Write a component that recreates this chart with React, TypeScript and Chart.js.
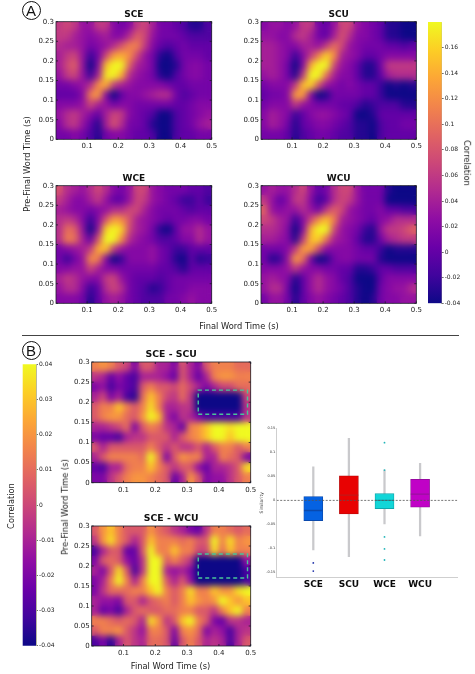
import React, { useEffect, useRef } from "react";
import { Chart, registerables } from "chart.js";

Chart.register(...registerables);

// ---------- DATA ----------
// Heatmap grids: rows run from 0.3 s (top) to 0 s (bottom), columns from 0 s to 0.5 s. Values are correlation x 100.
const gridSCE = [
  [6,7,6,3,3,6,6,2,1,2,6,7,4,1,1,0,-1,-3,-3,-1],
  [6,6,4,3,2,3,4,2,2,5,9,7,3,1,1,1,0,-1,-1,-1],
  [5,4,4,3,1,2,3,5,8,11,11,6,2,0,-1,0,1,0,0,0],
  [4,6,7,3,-2,1,7,13,14,12,7,3,1,-3,-4,-1,1,1,1,0],
  [4,7,9,3,-5,2,15,23,22,9,4,3,1,-5,-6,-3,1,2,2,1],
  [3,6,7,3,-2,4,17,22,14,5,3,2,1,-3,-4,-1,1,2,2,1],
  [1,1,2,3,5,12,14,6,4,3,2,2,2,2,1,0,0,1,1,1],
  [0,0,0,2,11,13,2,-5,0,2,2,3,4,5,5,1,-1,0,1,1],
  [2,2,2,3,7,4,3,1,2,2,1,1,1,1,1,0,0,1,2,2],
  [3,5,6,4,2,0,4,7,6,2,1,0,-1,-4,-4,-1,0,1,2,3],
  [2,5,6,3,0,-3,4,8,5,1,1,0,-3,-6,-6,-1,0,1,3,4],
  [1,1,2,1,-1,-3,1,2,2,1,0,0,-1,-4,-4,-1,0,0,1,1],
];
const gridSCU = [
  [2,3,3,2,3,6,6,1,0,3,7,7,3,2,1,0,-3,-3,-4,-4],
  [3,3,2,2,5,6,4,1,0,4,8,5,2,2,1,0,-3,-3,-4,-4],
  [4,4,3,2,2,4,4,3,6,10,7,3,2,1,1,1,0,0,-1,0],
  [4,4,3,2,-2,2,6,11,16,12,4,3,2,0,0,1,2,2,2,2],
  [4,4,3,1,-5,2,14,22,20,7,3,2,0,-3,-3,1,6,6,6,6],
  [3,4,3,1,-3,6,19,18,10,4,2,2,0,-3,-3,0,4,5,5,5],
  [1,2,2,2,6,15,16,8,3,2,1,2,1,0,0,-2,-4,-3,-4,-3],
  [0,1,1,2,13,13,2,-4,-3,1,1,1,1,0,0,-2,-5,-4,-6,-5],
  [1,2,2,2,6,3,2,1,1,1,0,0,-1,-3,-2,-1,-1,-1,-3,-3],
  [2,4,3,2,-2,0,2,3,3,2,1,0,-4,-4,-3,0,0,0,0,0],
  [2,4,3,1,-3,0,1,2,2,1,0,-1,-3,-3,-4,-1,0,0,1,1],
  [1,1,1,0,-3,-1,0,1,1,0,-1,-1,-3,-3,-4,-1,0,0,0,0],
];
const gridWCE = [
  [8,5,4,3,5,7,5,2,1,3,7,7,3,2,1,1,1,0,0,-1],
  [6,4,2,2,4,6,3,0,0,3,7,6,3,2,1,0,-2,-2,0,-2],
  [4,3,2,2,1,2,3,5,5,7,7,4,2,1,1,1,0,-1,0,0],
  [5,6,5,2,-2,2,8,13,12,8,4,3,2,1,0,1,1,2,2,1],
  [5,10,9,3,-5,3,16,22,16,7,4,3,1,-3,-4,0,3,3,5,3],
  [5,11,10,4,0,8,19,18,12,5,3,2,1,-1,-1,0,2,2,5,3],
  [1,2,3,4,6,14,15,6,3,2,2,2,3,1,0,-2,-2,0,0,0],
  [1,-2,1,3,12,11,2,-4,-2,2,2,2,3,1,0,-3,-5,0,-3,-2],
  [2,2,3,3,7,4,2,2,1,1,1,1,1,0,0,-1,-3,0,0,0],
  [4,6,5,3,2,2,6,7,3,1,0,0,0,-1,0,1,1,1,1,1],
  [3,5,5,2,-2,0,5,7,5,1,0,-1,-3,-2,0,1,1,2,2,2],
  [2,2,2,1,-3,0,3,4,3,1,0,-1,-1,-1,1,1,2,3,2,2],
];
const gridWCU = [
  [3,4,3,3,5,7,3,0,1,5,7,7,3,1,1,1,-3,-4,-4,-4],
  [6,3,0,2,6,6,2,-2,0,5,7,6,3,1,1,1,-5,-5,-5,-5],
  [9,3,2,3,3,5,3,1,6,9,7,3,2,1,1,2,0,0,-1,-1],
  [7,6,4,3,-2,2,7,12,15,11,4,3,2,1,0,2,3,5,5,5],
  [5,5,4,2,-5,2,14,20,18,7,3,2,1,-2,-3,3,6,6,7,9],
  [4,4,3,2,-3,6,15,16,10,4,3,2,0,-3,-3,1,4,5,6,6],
  [1,1,1,2,6,13,13,7,2,2,2,2,1,0,0,-2,-4,-3,-3,-3],
  [1,-3,-2,3,13,10,1,-5,-3,1,2,2,1,1,1,-3,-5,-5,-5,-5],
  [2,2,2,3,6,3,2,2,1,1,0,0,-3,-3,-2,0,0,-1,-1,-1],
  [3,4,3,2,-3,0,3,5,3,2,0,-1,-4,-4,-4,0,2,2,2,2],
  [3,5,5,1,-4,0,3,5,3,2,1,-1,-3,-4,-4,1,2,3,3,5],
  [1,3,3,1,-3,0,2,3,2,1,0,-1,-3,-4,-3,1,2,2,3,3],
];
const gridDiffSCU = [
  [1.5,2,1.5,0.5,0,-2,0.5,0.5,-1,-1,-2,0.5,-1,-2,0.5,1.5,1.5,1.5,1,1],
  [-0.5,-1,-2.5,-1.5,-2.5,-3,-1,-1,-1,-1.5,-2.5,0.5,-1,-2.5,-1,1.5,2,2,1.5,1.5],
  [-2,-1.5,-3,-2,-2.5,-3,0.5,1.5,0.5,0.5,0,1,0,-1,-2,-1,0,0,1,1],
  [-1,0,-2,-1,-3,-3.5,1,3,1.5,0,-0.5,1,-0.5,-4.5,-5,-5,-5,-4.5,-4,0],
  [0.5,1.5,1.5,3,1.5,0.5,1.5,3.5,1.5,-1,-1,-0.5,-0.5,-5,-6,-6,-6,-6,-5,-0.5],
  [0.5,1.5,2,2,1,0.5,2,5,3,-1,-2,-0.5,-1,-2,-3,-3,-3,-3,-3,-0.5],
  [-1,-1,-0.5,0,1,-2,0.5,1.5,1,-0.5,-1,-2.5,1.5,2,3,5,4,3.5,6,6],
  [-2,-2.5,-2.5,-3,-1,-0.5,-0.5,0.5,0.5,0.5,-1,0.5,1.5,2,3,4,5,3,4,6],
  [0.5,-1,0.5,0.5,0.5,0.5,0.5,1.5,0.5,-0.5,0.5,-0.5,-0.5,0.5,-1,0.5,1.5,1.5,0.5,1.5],
  [-1,0.5,1.5,1.5,1.5,1.5,1,6,1.5,-2,0.5,2,1.5,1.5,-1,-1,1.5,1,0.5,-2],
  [-2.5,-3,-1,-1,1,1.5,1.5,3,1.5,0.5,-0.5,0.5,0.5,-1.5,-2.5,-1,-1,-0.5,0.5,3.5],
  [-2,-2,-0.5,0.5,1.5,2,2,1.5,1,0.5,-2.5,-1,2,0.5,-2,-1.5,-1.5,-0.5,0.5,1.5],
];
const gridDiffWCU = [
  [0.5,2,3,1.5,0.5,0.5,0.5,2,1,0.5,-0.5,-1,-2,-2.5,-0.5,1.5,1.5,1,0.5,1],
  [-0.5,2,3.5,1.5,0.5,-1,0.5,3,1.5,1.5,1.5,1,1.5,0.5,0.5,4,1.5,3.5,1.5,2],
  [-3,-1,0.5,0.5,-2.5,-2.5,0.5,5,1.5,1.5,3,1.5,1.5,0,0,3.5,1,3,1.5,1.5],
  [-2,0.5,1,0.5,-1.5,-2.5,-0.5,6,4.5,0.5,1.5,0.5,-0.5,-4.5,-5,-6,-6,-6,-4.5,-1.5],
  [-1,-2,0.5,3.5,0.5,-3,-0.5,6,4.5,-1,-1.5,-1,-2,-6,-6,-5,-6,-5,-5,-3],
  [-2,-1,1.5,4.5,1.5,-1,1.5,6,6,0.5,-1,0.5,-1.5,-5,-5,-5,-5,-4.5,-4.5,-3],
  [-2,-0.5,1,1,1,1.5,1.5,3,4.5,1.5,0.5,1.5,3.5,1.5,1.5,3,2,2,3.5,5],
  [-1,-1.5,-1.5,-2,0.5,0.5,-1,0.5,1,1.5,0.5,1.5,3,2,1.5,2,5,3,2,3],
  [-1,-2.5,-2,-3,-1,0.5,1,0.5,0.5,1,1,1.5,1.5,0.5,0.5,-0.5,1.5,3,5,1.5],
  [1.5,1.5,1,0.5,1,0.5,-1,3.5,2,-0.5,0.5,3,4.5,1.5,0.5,-2,-2.5,-0.5,-0.5,-1],
  [0.5,1.5,1.5,2,0.5,-0.5,-1.5,1.5,1.5,0.5,-2,1.5,2,1,-2,-1,-1.5,-3,-1,-0.5],
  [-3,-2,-3.5,-1,0.5,-0.5,-1,1,1,0.5,-2.5,0.5,1.5,0.5,-1,-0.5,-1,-3,-1,0.5],
];

const xTickValues = [0.1, 0.2, 0.3, 0.4, 0.5];
const yTickValues = [0, 0.05, 0.1, 0.15, 0.2, 0.25, 0.3];
const barTicksA = [-0.04, -0.02, 0, 0.02, 0.04, 0.06, 0.08, 0.1, 0.12, 0.14, 0.16];
const barTicksB = [-0.04, -0.03, -0.02, -0.01, 0, 0.01, 0.02, 0.03, 0.04];
const rangeA = [-0.04, 0.18];
const rangeB = [-0.04, 0.04];

// Highlighted window in panel B: [x from, x to, y from, y to]
const windowB = [0.335, 0.49, 0.17, 0.23];

// Box plot
const categories = ["SCE", "SCU", "WCE", "WCU"];
const q1 = [-0.042, -0.028, -0.017, -0.014];
const medians = [-0.021, 0.011, 0.0, 0.013];
const q3 = [0.008, 0.051, 0.014, 0.044];
const whiskerLow = [-0.103, -0.117, -0.049, -0.074];
const whiskerHigh = [0.07, 0.129, 0.063, 0.077];
const outliersSCE = [-0.13, -0.147];
const outliersWCE = [0.12, 0.063, -0.076, -0.101, -0.124];
const boxFill = ["#0562e2", "#e80202", "#12d6d8", "#c002c6"];
const boxEdge = ["#0a49ad", "#b80808", "#0fa7ad", "#8d0d96"];
const medianColor = ["#0a49ad", "#c01818", "#0fa0a8", "#9a109e"];
const boxYTicks = [-0.15, -0.1, -0.05, 0, 0.05, 0.1, 0.15];

// ---------- COLOUR ----------
const plasma = ["#0d0887", "#41049d", "#6a00a8", "#8f0da4", "#b12a90", "#cc4778", "#e16462", "#f2844b", "#fca636", "#fcce25", "#f0f921"];
const hex = (h: string) => [1, 3, 5].map((i) => parseInt(h.slice(i, i + 2), 16));
function colorAt(t: number) {
  const c = Math.min(1, Math.max(0, t)) * (plasma.length - 1);
  const i = Math.min(plasma.length - 2, Math.floor(c));
  const a = hex(plasma[i]);
  const b = hex(plasma[i + 1]);
  const f = c - i;
  return `rgb(${a.map((v, k) => Math.round(v + (b[k] - v) * f)).join(",")})`;
}

// ---------- LAYOUT ----------
const FONT = "'DejaVu Sans'";
const TXT = "#222";
type Rect = { x0: number; x1: number; y0: number; y1: number };
const heatBox = (r: Rect) => {
  const L = Math.floor(r.x0) - 40;
  const T = Math.floor(r.y0) - 20;
  return { L, T, W: Math.ceil(r.x1) + 14 - L, H: Math.ceil(r.y1) + 16 - T };
};
const barBox = (r: Rect) => {
  const L = Math.floor(r.x0);
  const T = Math.floor(r.y0) - 6;
  return { L, T, W: Math.ceil(r.x1) - L + 30, H: Math.ceil(r.y1) + 6 - T };
};
const boxPlotRect: Rect = { x0: 276.7, x1: 457.3, y0: 428.3, y1: 577.3 };
const boxPlotBox = { L: 255, T: 420, W: 220, H: 175 };

const panels = [
  { title: "SCE", grid: gridSCE, range: rangeA, blur: 3.6, fs: 9, rect: { x0: 56, x1: 211.7, y0: 21.7, y1: 139.3 } },
  { title: "SCU", grid: gridSCU, range: rangeA, blur: 3.6, fs: 9, rect: { x0: 261, x1: 416.3, y0: 21.7, y1: 139.3 } },
  { title: "WCE", grid: gridWCE, range: rangeA, blur: 3.6, fs: 9, rect: { x0: 56, x1: 211.7, y0: 185.7, y1: 303.3 } },
  { title: "WCU", grid: gridWCU, range: rangeA, blur: 3.6, fs: 9, rect: { x0: 261, x1: 416.3, y0: 185.7, y1: 303.3 } },
  { title: "SCE - SCU", grid: gridDiffSCU, range: rangeB, blur: 3.2, fs: 9.3, box: true, rect: { x0: 91.7, x1: 250.7, y0: 362, y1: 482.7 } },
  { title: "SCE - WCU", grid: gridDiffWCU, range: rangeB, blur: 3.2, fs: 9.3, box: true, rect: { x0: 91.7, x1: 250.7, y0: 526, y1: 646 } },
];
const colorbars = [
  { ticks: barTicksA, range: rangeA, rect: { x0: 428, x1: 441.7, y0: 22, y1: 303.3 } },
  { ticks: barTicksB, range: rangeB, rect: { x0: 22.7, x1: 36, y0: 364.3, y1: 645.7 } },
];

// ---------- CHART BUILDERS ----------
const blurPlugin = (sigma: number) => ({
  id: "smooth",
  afterDatasetDraw(chart: any, args: any) {
    if (args.index !== 0) return;
    const a = chart.chartArea;
    const ctx = chart.ctx;
    ctx.save();
    ctx.beginPath();
    ctx.rect(a.left, a.top, a.width, a.height);
    ctx.clip();
    ctx.filter = `blur(${sigma}px)`;
    ctx.drawImage(chart.canvas, a.left, a.top, a.width, a.height, a.left, a.top, a.width, a.height);
    ctx.restore();
  },
});
const framePlugin = {
  id: "frame",
  afterDraw(chart: any) {
    const a = chart.chartArea;
    const ctx = chart.ctx;
    ctx.save();
    ctx.strokeStyle = "#1c1c28";
    ctx.lineWidth = 0.8;
    ctx.strokeRect(a.left, a.top, a.width, a.height);
    ctx.beginPath();
    chart.scales.x.ticks.forEach((t: any) => {
      const p = chart.scales.x.getPixelForValue(t.value);
      ctx.moveTo(p, a.bottom);
      ctx.lineTo(p, a.bottom - 2);
      ctx.moveTo(p, a.top);
      ctx.lineTo(p, a.top + 2);
    });
    chart.scales.y.ticks.forEach((t: any) => {
      const p = chart.scales.y.getPixelForValue(t.value);
      ctx.moveTo(a.left, p);
      ctx.lineTo(a.left + 2, p);
      ctx.moveTo(a.right, p);
      ctx.lineTo(a.right - 2, p);
    });
    ctx.stroke();
    ctx.restore();
  },
};

function heatChart(canvas: HTMLCanvasElement, p: any) {
  const { L, T, W, H } = heatBox(p.rect);
  const r = p.rect;
  const rows = p.grid.length;
  const cols = p.grid[0].length;
  const points: any[] = [];
  const colors: string[] = [];
  p.grid.forEach((row: number[], ri: number) =>
    row.forEach((v: number, ci: number) => {
      const hi = 0.3 - (ri * 0.3) / rows;
      points.push({ x: ((ci + 0.5) * 0.5) / cols, y: [hi - 0.3 / rows, hi] });
      colors.push(colorAt((v / 100 - p.range[0]) / (p.range[1] - p.range[0])));
    })
  );
  const datasets: any[] = [
    {
      type: "bar",
      data: points,
      backgroundColor: colors,
      borderWidth: 0,
      grouped: false,
      barThickness: (r.x1 - r.x0) / cols + 0.6,
      order: 2,
    },
  ];
  if (p.box) {
    const [a, b, c, d] = windowB;
    datasets.push({
      type: "line",
      data: [
        { x: a, y: c },
        { x: b, y: c },
        { x: b, y: d },
        { x: a, y: d },
        { x: a, y: c },
      ],
      borderColor: "#48c39a",
      borderWidth: 1.4,
      borderDash: [4, 3],
      pointRadius: 0,
      tension: 0,
      order: 1,
    });
  }
  const tickFont = { family: FONT, size: 7 };
  return new Chart(canvas, {
    type: "bar",
    data: { datasets },
    options: {
      animation: false,
      responsive: false,
      events: [],
      layout: { padding: { left: 0, top: 0, bottom: 0, right: L + W - r.x1 } },
      plugins: {
        legend: { display: false },
        tooltip: { enabled: false },
        title: {
          display: true,
          text: p.title,
          fullSize: false,
          color: "#111",
          font: { family: FONT, size: p.fs, weight: "bold", lineHeight: 1.2 },
          padding: { top: r.y0 - T - p.fs * 1.2 - 2, bottom: 2 },
        },
      },
      scales: {
        x: {
          type: "linear",
          min: 0,
          max: 0.5,
          offset: false,
          grid: { display: false, drawTicks: false },
          border: { display: false },
          afterBuildTicks: (s: any) => {
            s.ticks = xTickValues.map((value) => ({ value }));
          },
          afterFit: (s: any) => {
            s.height = T + H - r.y1;
          },
          ticks: { font: tickFont, color: TXT, padding: 3, maxRotation: 0, autoSkip: false, callback: (v: any) => String(v) },
        },
        y: {
          type: "linear",
          min: 0,
          max: 0.3,
          grid: { display: false, drawTicks: false },
          border: { display: false },
          afterBuildTicks: (s: any) => {
            s.ticks = yTickValues.map((value) => ({ value }));
          },
          afterFit: (s: any) => {
            s.width = r.x0 - L;
          },
          ticks: { font: tickFont, color: TXT, padding: 2, autoSkip: false, callback: (v: any) => String(v) },
        },
      },
    },
    plugins: [blurPlugin(p.blur), framePlugin],
  } as any);
}

function colorbarChart(canvas: HTMLCanvasElement, b: any) {
  const r = b.rect;
  const { L, T, W, H } = barBox(r);
  return new Chart(canvas, {
    type: "bar",
    data: {
      datasets: [
        {
          data: [{ x: 0.5, y: b.range }],
          grouped: false,
          barThickness: r.x1 - r.x0 + 1,
          borderWidth: 0,
          backgroundColor: (c: any) => {
            const a = c.chart.chartArea;
            if (!a) return plasma[0];
            const g = c.chart.ctx.createLinearGradient(0, a.bottom, 0, a.top);
            plasma.forEach((col, i) => g.addColorStop(i / (plasma.length - 1), col));
            return g;
          },
        },
      ],
    },
    options: {
      animation: false,
      responsive: false,
      events: [],
      layout: { padding: { left: r.x0 - L, top: r.y0 - T, bottom: T + H - r.y1, right: 0 } },
      plugins: { legend: { display: false }, tooltip: { enabled: false } },
      scales: {
        x: { type: "linear", min: 0, max: 1, offset: false, display: false },
        y: {
          type: "linear",
          position: "right",
          min: b.range[0],
          max: b.range[1],
          grid: { drawOnChartArea: false, tickLength: 2, color: "#333", lineWidth: 0.7 },
          border: { color: "#8a8a5a", width: 0.6 },
          afterBuildTicks: (s: any) => {
            s.ticks = b.ticks.map((value: number) => ({ value }));
          },
          afterFit: (s: any) => {
            s.width = L + W - r.x1;
          },
          ticks: { font: { family: FONT, size: 6 }, color: TXT, padding: 1, autoSkip: false, callback: (v: any) => String(v) },
        },
      },
    },
  } as any);
}

function boxChart(canvas: HTMLCanvasElement) {
  const r = boxPlotRect;
  const { L, T, W, H } = boxPlotBox;
  const xs = categories.map((_, i) => i + 1);
  const xMin = -0.028;
  const xMax = 5.045;
  const datasets: any[] = [
    {
      type: "line",
      data: [
        { x: xMin, y: 0 },
        { x: xMax, y: 0 },
      ],
      borderColor: "#555",
      borderWidth: 0.8,
      borderDash: [2, 1.5],
      pointRadius: 0,
      order: 1,
    },
    {
      type: "bar",
      data: xs.map((x, i) => ({ x, y: [medians[i] - 0.0008, medians[i] + 0.0008] })),
      backgroundColor: medianColor,
      borderWidth: 0,
      grouped: false,
      barThickness: 18,
      order: 2,
    },
    {
      type: "bar",
      data: xs.map((x, i) => ({ x, y: [q1[i], q3[i]] })),
      backgroundColor: boxFill,
      borderColor: boxEdge,
      borderWidth: 0.8,
      borderSkipped: false,
      grouped: false,
      barThickness: 19,
      order: 3,
    },
    {
      type: "bar",
      data: xs.map((x, i) => ({ x, y: [whiskerLow[i], whiskerHigh[i]] })),
      backgroundColor: "#c9c9cc",
      borderWidth: 0,
      grouped: false,
      barThickness: 1.6,
      order: 4,
    },
    {
      type: "scatter",
      data: outliersSCE.map((y) => ({ x: 1, y })),
      backgroundColor: "#1c2fa8",
      pointRadius: 0.9,
      borderWidth: 0,
      order: 0,
    },
    {
      type: "scatter",
      data: outliersWCE.map((y) => ({ x: 3, y })),
      backgroundColor: "#1fb4b8",
      pointRadius: 0.9,
      borderWidth: 0,
      order: 0,
    },
  ];
  return new Chart(canvas, {
    type: "bar",
    data: { datasets },
    options: {
      animation: false,
      responsive: false,
      events: [],
      layout: { padding: { left: 0, top: r.y0 - T, right: L + W - r.x1, bottom: 0 } },
      plugins: { legend: { display: false }, tooltip: { enabled: false } },
      scales: {
        x: {
          type: "linear",
          min: xMin,
          max: xMax,
          offset: false,
          grid: { display: false, drawTicks: false },
          border: { color: "#cfcfcf", width: 1 },
          afterBuildTicks: (s: any) => {
            s.ticks = xs.map((value) => ({ value }));
          },
          afterFit: (s: any) => {
            s.height = T + H - r.y1;
          },
          ticks: {
            font: { family: FONT, size: 9, weight: "bold" },
            color: "#0a0a0a",
            padding: 2,
            maxRotation: 0,
            autoSkip: false,
            callback: (v: any) => categories[v - 1],
          },
        },
        y: {
          type: "linear",
          min: -0.16,
          max: 0.15,
          grid: { drawOnChartArea: false, tickLength: 1, color: "#bbb", lineWidth: 0.5 },
          border: { color: "#cfcfcf", width: 1 },
          title: { display: true, text: "Similarity", color: "#333", font: { family: FONT, size: 4.5 }, padding: { top: 4.5, bottom: 0 } },
          afterBuildTicks: (s: any) => {
            s.ticks = boxYTicks.map((value) => ({ value }));
          },
          afterFit: (s: any) => {
            s.width = r.x0 - L;
          },
          ticks: { font: { family: FONT, size: 3.5 }, color: "#333", padding: 0.5, autoSkip: false, callback: (v: any) => String(v) },
        },
      },
    },
  } as any);
}

// ---------- PAGE ----------
const labelStyle = (cx: number, cy: number, rot: number, size = 8.3): React.CSSProperties => ({
  position: "absolute",
  left: cx,
  top: cy,
  transform: `translate(-50%,-50%) rotate(${rot}deg)`,
  fontFamily: FONT,
  fontSize: size,
  color: "#222",
  whiteSpace: "nowrap",
  lineHeight: 1,
});
const badgeStyle = (cx: number, cy: number): React.CSSProperties => ({
  position: "absolute",
  left: cx - 9.5,
  top: cy - 9.5,
  width: 19,
  height: 19,
  boxSizing: "border-box",
  border: "1.2px solid #111",
  borderRadius: "50%",
  textAlign: "center",
  fontFamily: "'Liberation Sans'",
  fontSize: 15,
  lineHeight: "17px",
  color: "#111",
});
const place = (b: { L: number; T: number }): React.CSSProperties => ({ position: "absolute", left: b.L, top: b.T, display: "block" });

export default function App() {
  const heatRefs = useRef<(HTMLCanvasElement | null)[]>([]);
  const barRefs = useRef<(HTMLCanvasElement | null)[]>([]);
  const boxRef = useRef<HTMLCanvasElement | null>(null);
  useEffect(() => {
    const charts = [
      ...panels.map((p, i) => heatChart(heatRefs.current[i]!, p)),
      ...colorbars.map((b, i) => colorbarChart(barRefs.current[i]!, b)),
      boxChart(boxRef.current!),
    ];
    return () => charts.forEach((c) => c.destroy());
  }, []);
  return (
    <div style={{ position: "absolute", left: 0, top: 0, width: 475, height: 674, background: "#fff", overflow: "hidden" }}>
      {panels.map((p, i) => {
        const b = heatBox(p.rect);
        return <canvas key={p.title} ref={(el) => { heatRefs.current[i] = el; }} width={b.W} height={b.H} style={place(b)} />;
      })}
      {colorbars.map((c, i) => {
        const b = barBox(c.rect);
        return <canvas key={i} ref={(el) => { barRefs.current[i] = el; }} width={b.W} height={b.H} style={place(b)} />;
      })}
      <canvas ref={boxRef} width={boxPlotBox.W} height={boxPlotBox.H} style={place(boxPlotBox)} />

      <div style={badgeStyle(31, 10)}>A</div>
      <div style={badgeStyle(31, 350.7)}>B</div>
      <div style={labelStyle(27, 163.5, -90)}>Pre-Final Word Time (s)</div>
      <div style={labelStyle(239, 326, 0)}>Final Word Time (s)</div>
      <div style={labelStyle(467, 163, 90)}>Correlation</div>
      <div style={{ position: "absolute", left: 22, top: 335, width: 437, height: 1.4, background: "#444" }} />
      <div style={labelStyle(11, 506, -90)}>Correlation</div>
      <div style={labelStyle(65, 506.5, -90)}>Pre-Final Word Time (s)</div>
      <div style={labelStyle(170.5, 666, 0)}>Final Word Time (s)</div>
    </div>
  );
}
